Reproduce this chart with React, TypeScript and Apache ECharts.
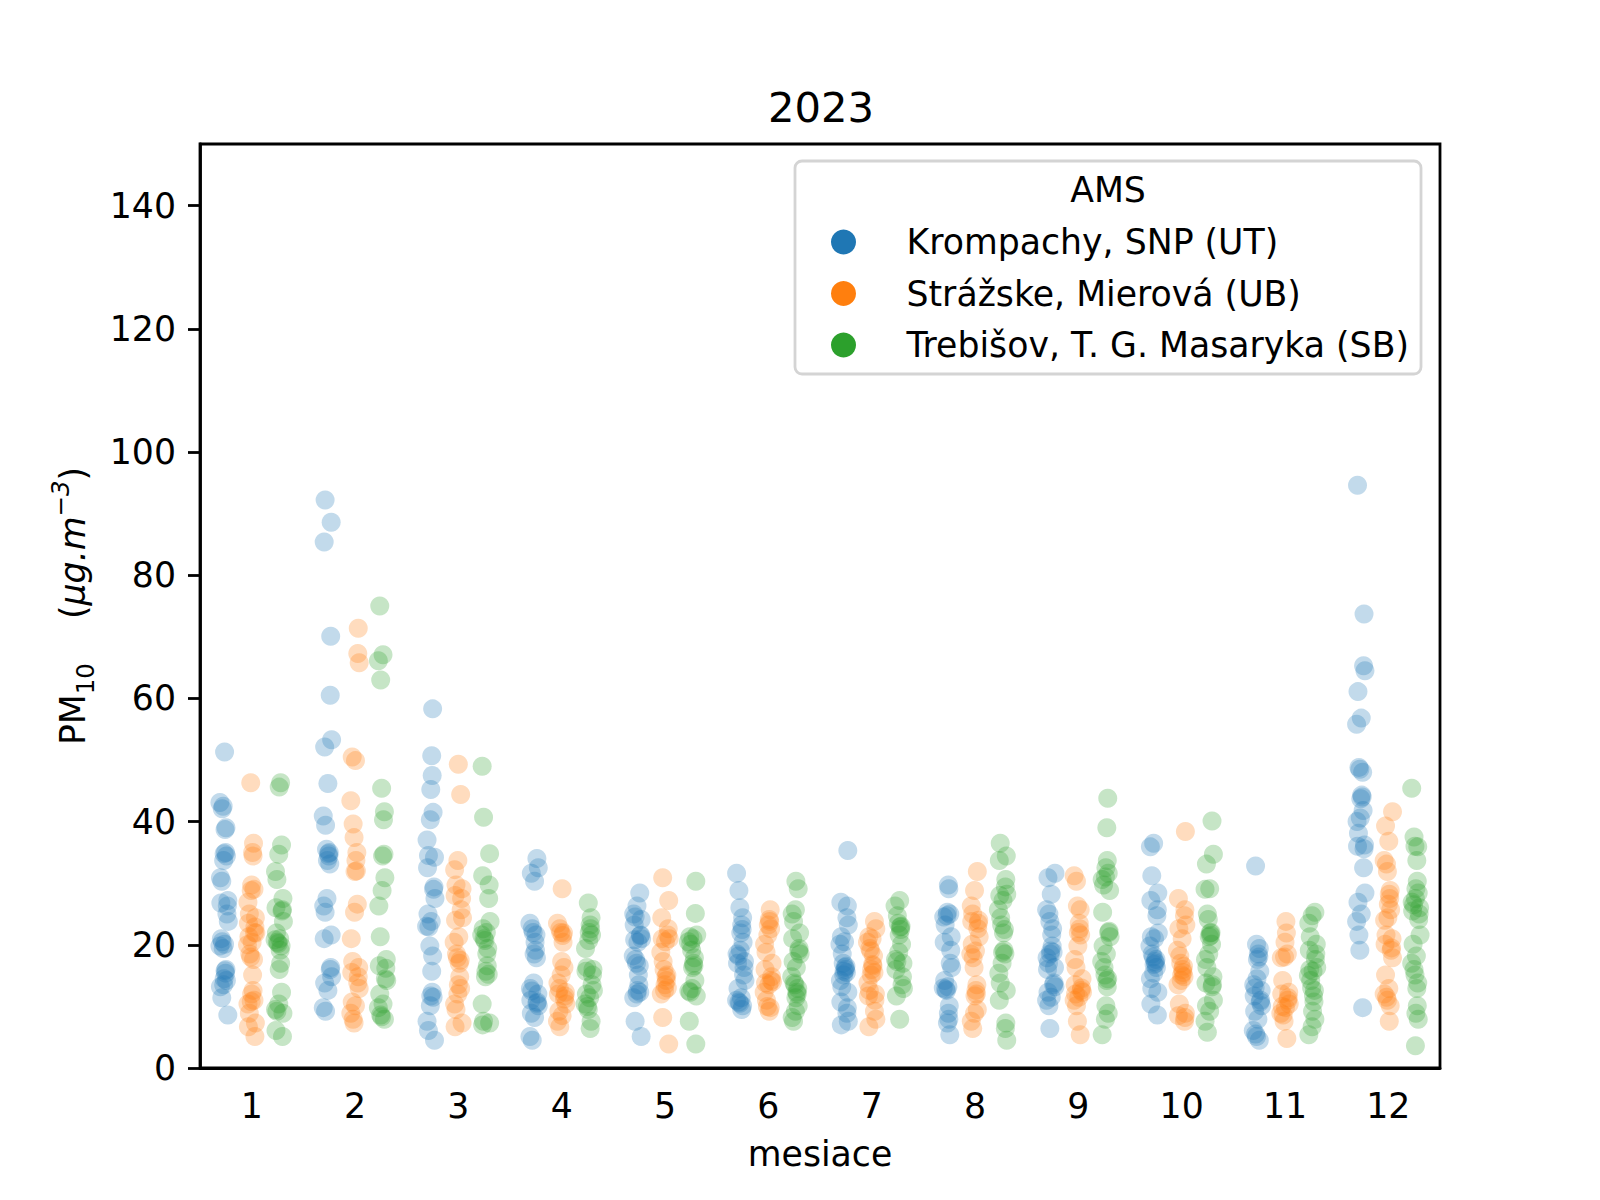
import React, { useEffect, useRef } from "react";
import * as echarts from "echarts";

const FONT = "DejaVu Sans";
const MONTHS = ["1", "2", "3", "4", "5", "6", "7", "8", "9", "10", "11", "12"];
const STATIONS = ["Krompachy, SNP (UT)", "Strážske, Mierová (UB)", "Trebišov, T. G. Masaryka (SB)"];
const COLORS = ["#1f77b4", "#ff7f0e", "#2ca02c"];
const Y_TICKS = [0, 20, 40, 60, 80, 100, 120, 140];

// PM10 daily values per month (index 0 = January)
const KROMPACHY: number[][] = [
  [51.3, 43.1, 42.1, 42.5, 39.0, 38.7, 35.0, 34.8, 34.4, 33.7, 30.9, 30.3, 27.2, 26.8, 26.3, 25.0, 23.8, 21.0, 20.1, 19.8, 20.5, 19.4, 16.0, 15.8, 15.4, 14.5, 14.2, 13.5, 13.2, 11.4, 8.6],
  [92.2, 88.6, 85.4, 70.1, 60.5, 53.3, 52.1, 46.2, 40.9, 39.4, 35.5, 35.0, 34.8, 34.4, 33.7, 33.1, 27.5, 26.3, 25.3, 21.6, 21.0, 16.3, 16.0, 14.8, 13.8, 12.6, 9.8, 9.2],
  [58.3, 50.7, 47.5, 45.2, 41.5, 40.3, 37.0, 34.5, 34.2, 32.5, 29.4, 29.0, 27.5, 25.0, 23.8, 23.0, 22.9, 19.8, 18.2, 15.7, 12.3, 11.7, 11.5, 10.1, 7.6, 6.1, 4.5],
  [34.0, 32.5, 31.6, 30.3, 23.5, 22.6, 22.0, 21.6, 20.4, 19.1, 18.5, 17.9, 13.8, 12.9, 12.5, 12.0, 11.0, 10.7, 10.5, 10.1, 8.9, 8.2, 5.1, 4.5],
  [28.4, 26.3, 25.0, 24.5, 24.1, 23.2, 21.6, 21.5, 21.0, 20.8, 20.4, 18.2, 17.6, 17.0, 16.6, 15.1, 13.5, 12.6, 12.3, 12.0, 11.4, 7.6, 5.1],
  [31.6, 28.8, 26.0, 24.4, 23.2, 22.5, 21.9, 20.4, 19.1, 18.5, 18.2, 17.3, 17.0, 16.3, 15.1, 14.2, 12.9, 11.4, 11.0, 10.7, 10.5, 10.1, 9.5],
  [35.3, 26.9, 26.3, 24.4, 23.2, 21.3, 20.5, 20.1, 18.5, 17.0, 16.5, 16.3, 16.0, 15.7, 15.5, 15.1, 14.2, 13.2, 12.3, 10.7, 9.8, 8.9, 7.6, 7.0],
  [29.7, 29.1, 25.3, 25.0, 24.7, 24.5, 23.2, 21.3, 20.4, 19.1, 17.0, 16.3, 14.2, 13.2, 13.0, 12.8, 12.6, 10.1, 8.9, 7.9, 7.3, 5.4],
  [31.6, 30.9, 28.2, 25.7, 25.0, 23.8, 22.6, 21.6, 19.8, 19.0, 18.8, 18.5, 17.9, 17.0, 16.3, 16.0, 13.8, 13.5, 13.2, 12.3, 11.5, 11.0, 10.1, 6.4],
  [36.5, 35.9, 31.2, 28.4, 27.2, 25.7, 24.7, 21.9, 21.3, 21.0, 19.8, 18.5, 18.0, 17.6, 17.3, 17.0, 16.8, 16.3, 15.4, 14.5, 12.9, 12.3, 10.4, 8.6],
  [32.8, 20.1, 19.4, 18.5, 18.0, 17.6, 15.7, 14.5, 13.5, 13.0, 12.6, 11.7, 11.0, 10.7, 10.1, 9.2, 7.9, 6.1, 5.5, 5.1, 4.5],
  [94.6, 73.7, 65.3, 64.5, 61.1, 56.8, 55.8, 48.8, 48.5, 48.0, 44.3, 44.0, 43.7, 41.8, 40.6, 40.0, 38.1, 36.2, 36.0, 35.6, 32.5, 28.4, 26.9, 25.0, 23.8, 21.6, 19.1, 9.8],
];

const STRAZSKE: number[][] = [
  [46.3, 36.5, 35.0, 34.4, 29.7, 29.0, 28.8, 26.9, 25.0, 24.4, 23.5, 22.9, 22.0, 21.9, 21.3, 20.4, 20.0, 18.5, 18.0, 17.6, 15.1, 12.6, 12.0, 11.0, 10.8, 10.4, 8.9, 7.3, 6.7, 5.1],
  [71.4, 67.3, 65.8, 50.5, 49.9, 43.4, 39.6, 37.4, 35.0, 33.7, 32.0, 31.9, 26.6, 25.3, 21.0, 17.3, 16.3, 15.5, 14.8, 13.8, 12.9, 10.7, 10.1, 8.9, 7.9, 7.3],
  [49.3, 44.4, 33.7, 32.2, 29.7, 29.1, 28.0, 27.5, 25.7, 24.4, 24.0, 21.3, 20.4, 18.5, 17.9, 17.5, 17.0, 14.8, 13.5, 12.9, 12.0, 10.4, 9.5, 7.3, 6.7],
  [29.1, 23.5, 22.6, 22.0, 21.9, 21.5, 20.4, 17.3, 16.3, 15.1, 13.8, 12.9, 12.3, 12.0, 11.7, 11.2, 10.4, 9.2, 8.5, 7.6, 6.7],
  [30.9, 27.2, 24.4, 22.6, 21.6, 21.0, 21.0, 20.5, 18.8, 17.3, 16.0, 15.1, 14.8, 14.2, 13.5, 13.0, 12.6, 12.0, 8.2, 3.9],
  [25.7, 24.1, 23.8, 23.2, 22.6, 21.6, 20.1, 18.8, 17.0, 16.0, 14.8, 14.2, 14.0, 13.8, 13.5, 12.3, 11.0, 10.0, 9.8, 9.2],
  [23.8, 22.6, 21.3, 21.0, 20.4, 19.4, 19.0, 18.2, 16.8, 16.6, 16.0, 15.5, 15.1, 13.8, 12.6, 12.0, 11.7, 11.0, 9.2, 7.9, 6.7],
  [31.9, 28.8, 26.3, 25.0, 24.0, 23.8, 23.5, 22.6, 21.3, 20.1, 19.0, 18.5, 17.9, 16.3, 13.5, 12.6, 12.0, 11.7, 9.5, 8.9, 7.6, 6.4],
  [31.2, 30.3, 26.3, 25.7, 23.5, 22.6, 22.0, 21.6, 19.8, 17.6, 16.3, 14.5, 13.5, 13.0, 12.6, 12.3, 12.0, 11.5, 11.0, 10.1, 7.6, 5.4],
  [38.4, 27.5, 25.7, 24.7, 23.2, 22.6, 21.0, 19.1, 18.2, 17.0, 16.5, 16.0, 15.5, 15.1, 14.8, 14.2, 13.5, 10.4, 8.9, 8.5, 8.2, 7.6],
  [23.8, 21.9, 20.4, 18.5, 18.0, 17.9, 14.2, 12.3, 12.0, 11.4, 11.0, 10.4, 10.0, 9.8, 8.9, 8.6, 7.6, 4.8],
  [41.6, 39.3, 36.8, 33.7, 33.1, 31.9, 28.8, 28.2, 27.5, 26.6, 25.7, 24.4, 24.0, 21.6, 21.0, 20.1, 19.5, 19.1, 17.9, 15.1, 12.9, 12.0, 11.5, 11.0, 10.1, 7.6],
];

const TREBISOV: number[][] = [
  [46.3, 45.6, 36.2, 34.7, 31.9, 30.6, 27.5, 26.0, 25.7, 25.5, 23.8, 21.9, 21.0, 20.8, 20.4, 20.2, 19.8, 19.1, 17.0, 16.0, 12.3, 10.4, 9.5, 9.2, 8.9, 6.1, 5.1],
  [75.0, 67.1, 66.1, 63.0, 45.4, 41.6, 40.3, 34.7, 34.4, 30.9, 28.8, 26.3, 21.3, 17.6, 16.6, 16.2, 14.5, 14.2, 12.0, 10.4, 9.8, 8.6, 8.3, 7.9],
  [49.0, 40.7, 34.8, 31.2, 29.7, 27.5, 23.8, 22.6, 22.0, 21.6, 21.0, 20.7, 19.4, 18.5, 16.6, 15.7, 15.2, 14.8, 10.4, 7.6, 7.3, 7.0],
  [26.8, 24.4, 23.2, 22.6, 22.0, 21.6, 20.7, 19.4, 16.3, 16.0, 15.7, 15.1, 13.5, 12.6, 12.0, 11.4, 10.4, 10.0, 9.5, 7.6, 6.4],
  [30.3, 25.1, 21.6, 21.3, 21.0, 20.5, 20.1, 19.1, 17.9, 17.0, 16.6, 16.3, 14.2, 12.9, 12.5, 12.3, 11.7, 7.6, 3.9],
  [30.3, 29.1, 25.7, 25.0, 23.8, 21.9, 21.0, 19.4, 19.0, 18.5, 17.3, 16.3, 14.8, 13.8, 13.5, 12.9, 12.3, 12.0, 11.4, 10.1, 9.2, 8.2, 7.6],
  [27.2, 26.3, 24.7, 23.5, 23.0, 22.9, 22.5, 21.6, 20.1, 18.8, 17.6, 17.3, 17.0, 16.0, 14.8, 13.5, 12.9, 11.7, 7.9],
  [36.5, 34.4, 33.7, 30.6, 29.4, 28.2, 28.0, 27.2, 25.7, 24.4, 23.2, 22.5, 21.9, 19.1, 18.8, 18.5, 17.0, 15.4, 13.8, 12.6, 11.0, 7.3, 6.4, 4.5],
  [43.8, 39.0, 33.7, 32.5, 31.6, 31.0, 30.6, 29.7, 28.8, 25.3, 22.2, 22.0, 21.3, 19.8, 18.5, 17.3, 16.3, 15.1, 14.5, 14.2, 13.2, 10.1, 8.9, 7.9, 5.4],
  [40.1, 34.7, 33.1, 29.1, 29.0, 25.0, 24.1, 22.0, 21.9, 21.5, 21.3, 20.1, 18.5, 17.6, 16.3, 14.8, 13.8, 13.5, 13.2, 11.0, 10.1, 9.2, 7.6, 5.8],
  [25.3, 24.7, 23.5, 21.3, 20.1, 19.1, 18.5, 17.6, 16.3, 16.0, 15.7, 15.0, 14.2, 13.0, 12.6, 11.7, 10.7, 9.2, 7.9, 6.7, 5.4],
  [45.4, 37.5, 36.0, 35.9, 33.7, 30.3, 29.1, 28.4, 27.5, 26.9, 26.5, 26.0, 25.5, 25.0, 24.1, 21.6, 20.1, 18.2, 17.0, 16.0, 15.1, 13.8, 12.9, 10.1, 8.9, 7.9, 3.6],
];

const STATION_DATA = [KROMPACHY, STRAZSKE, TREBISOV];
// dodge offset (in category units) and jitter pattern (fraction of jitter width)
const DODGE = [-0.2667, 0, 0.2667];
const JITTER = [0.1, -0.7, 0.5, -0.2, 0.9, -0.5, 0.3, -0.9, 0.7, -0.1, 0.4, -0.6, 0.8, 0, -0.4, 0.6, -0.8, 0.2];
const JITTER_WIDTH = 0.045;

export default function App() {
  const ref = useRef<HTMLDivElement>(null);
  useEffect(() => {
    if (!ref.current) return;
    const chart = echarts.init(ref.current, undefined, { renderer: "svg" });
    const series = STATION_DATA.map((months, s) => {
      const data: number[][] = [];
      months.forEach((vals, m) => {
        vals.forEach((v, i) => {
          const j = JITTER[(i * 7 + m * 5 + s * 3) % JITTER.length];
          data.push([m + 1 + DODGE[s] + j * JITTER_WIDTH, v]);
        });
      });
      return {
        name: STATIONS[s],
        type: "scatter",
        xAxisIndex: 1,
        yAxisIndex: 0,
        symbol: "circle",
        symbolSize: 19,
        itemStyle: { color: COLORS[s], opacity: 0.27 },
        emphasis: { disabled: true },
        data,
      };
    });
    const axisText = { fontSize: 34.7, color: "#000", fontFamily: FONT };
    chart.setOption({
      animation: false,
      backgroundColor: "#fff",
      textStyle: { fontFamily: FONT },
      title: {
        text: "2023",
        left: 816,
        textAlign: "center",
        top: 81,
        textStyle: { fontSize: 41.7, fontWeight: "normal", color: "#000", fontFamily: FONT },
      },
      grid: {
        left: 200,
        right: 160,
        top: 144,
        bottom: 132,
        show: true,
        borderColor: "#000",
        borderWidth: 2.8,
        backgroundColor: "transparent",
      },
      xAxis: [
        {
          type: "category",
          data: MONTHS,
          boundaryGap: true,
          axisLine: { lineStyle: { color: "#000", width: 2.8 } },
          axisTick: { alignWithLabel: true, length: 12, lineStyle: { color: "#000", width: 2.8 } },
          axisLabel: { ...axisText, margin: 20 },
          splitLine: { show: false },
          name: "mesiace",
          nameLocation: "middle",
          nameGap: 68,
          nameTextStyle: axisText,
        },
        { type: "value", min: 0.5, max: 12.5, show: false, splitLine: { show: false } },
      ],
      yAxis: {
        type: "value",
        min: 0,
        max: 150,
        interval: 10,
        axisLine: { show: true, lineStyle: { color: "#000", width: 2.8 } },
        axisTick: { show: true, length: 12, lineStyle: { color: "#000", width: 2.8 }, customValues: Y_TICKS },
        axisLabel: { ...axisText, margin: 24, customValues: Y_TICKS },
        splitLine: { show: false },
        name: "{a|PM}{s|10}{a|    (}{i|μg.m}{p|−3}{a|)}",
        nameLocation: "middle",
        nameRotate: 90,
        nameGap: 102,
        nameTextStyle: {
          rich: {
            a: { fontSize: 34.7, lineHeight: 50, color: "#000", fontFamily: FONT },
            i: { fontSize: 34.7, lineHeight: 50, color: "#000", fontFamily: FONT, fontStyle: "italic" },
            s: { fontSize: 24.5, lineHeight: 26, color: "#000", fontFamily: FONT, verticalAlign: "bottom" },
            p: { fontSize: 24.5, lineHeight: 26, color: "#000", fontFamily: FONT, fontStyle: "italic", verticalAlign: "top" },
          },
        },
      },
      legend: {
        orient: "vertical",
        left: 831,
        top: 222,
        padding: 0,
        itemWidth: 116,
        itemHeight: 25,
        itemGap: 11.5,
        icon: "circle",
        selectedMode: false,
        itemStyle: { opacity: 1 },
        textStyle: { fontSize: 34.7, lineHeight: 40, color: "#000", fontFamily: FONT },
        data: STATIONS,
        z: 10,
      },
      graphic: [
        {
          type: "rect",
          z: 5,
          shape: { x: 795, y: 161, width: 626, height: 213, r: 7 },
          style: { fill: "rgba(255,255,255,0.8)", stroke: "#d4d4d4", lineWidth: 2.8 },
        },
        {
          type: "text",
          z: 6,
          x: 1108,
          y: 190,
          style: { text: "AMS", fontSize: 34.7, fill: "#000", fontFamily: FONT, textAlign: "center", textVerticalAlign: "middle" },
        },
      ],
      series,
    });
    return () => chart.dispose();
  }, []);
  return <div ref={ref} style={{ position: "fixed", left: 0, top: 0, width: 1600, height: 1200 }} />;
}
